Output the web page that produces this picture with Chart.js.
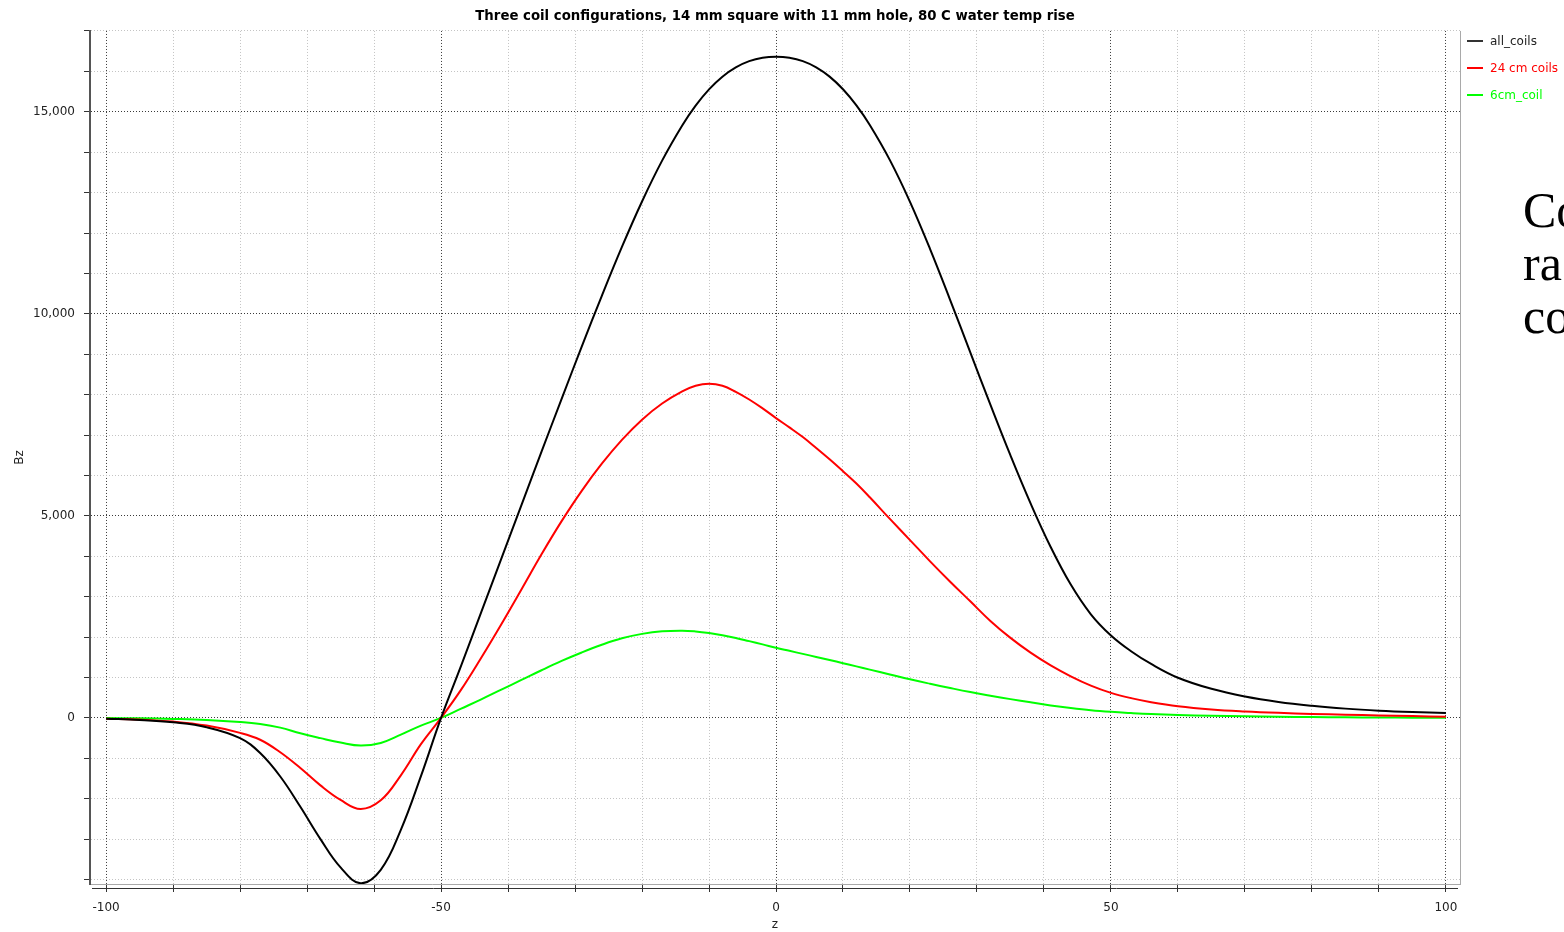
<!DOCTYPE html>
<html>
<head>
<meta charset="utf-8">
<script src="https://cdn.jsdelivr.net/npm/chart.js@4.4.1/dist/chart.umd.min.js"></script>
<style>
  html, body { margin: 0; padding: 0; background: #ffffff; }
  #wrap { position: relative; width: 1564px; height: 932px; overflow: hidden; background: #fff; }
  #c { position: absolute; left: 0; top: 0; }
  #legend { position: absolute; left: 1467px; top: 32px; font: 12px "DejaVu Sans", Verdana, sans-serif; }
  .li { position: relative; height: 27px; white-space: nowrap; }
  .sw { position: absolute; left: 0; top: 8px; width: 16px; height: 2px; }
  .lt { position: absolute; left: 23px; top: 0px; line-height: 18px; }
  #side { position: absolute; left: 1523px; top: 184px; font: 50px "Liberation Serif", "Times New Roman", serif; line-height: 53px; color: #000; white-space: nowrap; }
</style>
</head>
<body>
<div id="wrap">
  <canvas id="c" width="1564" height="932"></canvas>
  <div id="legend"></div>
  <div id="side">Co<br>ra<br>co</div>
</div>
<script>
// ---- data ----
const chartTitle = "Three coil configurations, 14 mm square with 11 mm hole, 80 C water temp rise";
const xAxisTitle = "z";
const yAxisTitle = "Bz";
const seriesLabels = ["all_coils", "24 cm coils", "6cm_coil"];
const seriesColors = ["#000000", "#ff0000", "#00ff00"];

const zValues = [-100,-95,-90,-85,-80,
  -77,-74,-71,-68,-65,-62,-59,-56,-53,-50,
  -47,-44,-41,-38,-35,-32,-29,-26,-23,-20,-17,-14,
  -12,-10,-8,-6,-4,-2,0,2,4,6,8,10,12,14,
  17,20,23,26,29,32,35,38,41,44,47,50,53,
  56,60,
  65,70,75,80,85,90,95,100];

const allCoils = [-20,-50,-110,-230,-500,
  -870,-1450,-2200,-3000,-3700,-4090,-3760,-2770,-1440,0,
  1296,2616,3942,5268,6588,7896,9186,10446,11655,12780,13791,14661,
  15151,15555,15869,16099,16253,16337,16361,16336,16253,16100,15870,15557,15157,14673,
  13803,12771,11601,10341,9045,7752,6495,5310,4230,3300,2565,2040,1650,
  1335,995,
  720,530,395,300,230,180,145,120];

const coils24 = [-20,-40,-90,-190,-370,
  -540,-850,-1240,-1670,-2030,-2255,-2040,-1420,-650,0,
  700,1490,2320,3180,4050,4870,5620,6290,6880,7380,7780,8080,
  8220,8270,8220,8070,7880,7660,7420,7190,6950,6680,6400,6105,5800,5460,
  4925,4400,3875,3370,2885,2400,1980,1615,1300,1030,800,620,490,
  390,290,
  210,160,125,100,80,60,45,30];

const coil6 = [-5,-10,-25,-50,-100,
  -150,-240,-380,-500,-610,-685,-620,-415,-190,0,
  230,460,700,940,1180,1410,1620,1810,1970,2080,2145,2160,
  2140,2100,2045,1980,1900,1820,1735,1660,1585,1510,1435,1355,1275,1195,
  1075,955,845,740,640,550,465,385,310,245,190,150,120,
  95,72,
  55,40,30,20,15,10,7,5];

const seriesValues = [allCoils, coils24, coil6];

const xTickValues = [-100,-90,-80,-70,-60,-50,-40,-30,-20,-10,0,10,20,30,40,50,60,70,80,90,100];
const xLabelValues = [-100,-50,0,50,100];
const yTickValues = [-4000,-3000,-2000,-1000,0,1000,2000,3000,4000,5000,6000,7000,8000,9000,10000,11000,12000,13000,14000,15000,16000,17000];
const yLabelValues = [0,5000,10000,15000];

const xMin = -102.4, xMax = 102.1;
const yMin = -4110, yMax = 17000;

// ---- build ----
const datasets = seriesLabels.map((lab, i) => ({
  label: lab,
  data: zValues.map((z, j) => ({ x: z, y: seriesValues[i][j] })),
  borderColor: seriesColors[i],
  backgroundColor: seriesColors[i],
  borderWidth: 2,
  pointRadius: 0,
  pointHoverRadius: 0,
  fill: false,
  tension: 0.4
}));

const majorGrid = '#3a3a3a';
const minorGrid = '#c4c4c4';

const framePlugin = {
  id: 'frame',
  afterDraw(chart) {
    const { ctx, chartArea: a } = chart;
    ctx.save();
    ctx.strokeStyle = '#a9a9a9';
    ctx.lineWidth = 1;
    ctx.beginPath();
    ctx.moveTo(a.right + 0.5, a.top);
    ctx.lineTo(a.right + 0.5, a.bottom + 1);
    ctx.stroke();
    ctx.strokeStyle = '#333';
    ctx.beginPath();
    ctx.moveTo(a.left + 2, a.bottom + 4.5);
    ctx.lineTo(a.right - 2, a.bottom + 4.5);
    ctx.stroke();
    ctx.restore();
  }
};

new Chart(document.getElementById('c'), {
  type: 'line',
  data: { datasets },
  plugins: [framePlugin],
  options: {
    responsive: false,
    animation: false,
    events: [],
    layout: { padding: { left: 0, right: 104, top: 0, bottom: 0 } },
    plugins: {
      legend: { display: false },
      tooltip: { enabled: false },
      title: {
        display: true,
        text: chartTitle,
        fullSize: false,
        color: '#000',
        font: { family: '"DejaVu Sans", sans-serif', size: 13.3, weight: 'bold' },
        padding: { top: 9, bottom: 6 }
      }
    },
    scales: {
      x: {
        type: 'linear',
        min: xMin,
        max: xMax,
        afterBuildTicks: (s) => { s.ticks = xTickValues.map(v => ({ value: v })); },
        afterFit: (s) => { s.height = 48; },
        ticks: {
          autoSkip: false,
          maxRotation: 0,
          padding: 9,
          color: '#222',
          font: { family: '"DejaVu Sans", sans-serif', size: 12 },
          callback: (v) => xLabelValues.includes(v) ? String(v) : ''
        },
        grid: {
          color: (ctx) => (ctx.tick && xLabelValues.includes(ctx.tick.value)) ? majorGrid : minorGrid,
          lineWidth: 1,
          tickLength: 8,
          tickColor: '#333'
        },
        border: { display: true, color: '#a9a9a9', width: 1, dash: [1, 2] },
        title: {
          display: true,
          text: xAxisTitle,
          color: '#222',
          font: { family: '"DejaVu Sans", sans-serif', size: 12 },
          padding: { top: 0, bottom: 0 }
        }
      },
      y: {
        type: 'linear',
        min: yMin,
        max: yMax,
        afterBuildTicks: (s) => { s.ticks = yTickValues.map(v => ({ value: v })); },
        afterFit: (s) => { s.width = 90; },
        ticks: {
          autoSkip: false,
          padding: 9,
          color: '#222',
          font: { family: '"DejaVu Sans", sans-serif', size: 12 },
          callback: (v) => yLabelValues.includes(v) ? v.toLocaleString('en-US') : ''
        },
        grid: {
          color: (ctx) => (ctx.tick && yLabelValues.includes(ctx.tick.value)) ? majorGrid : minorGrid,
          lineWidth: 1,
          tickLength: 6,
          tickColor: '#333'
        },
        border: { display: true, color: '#555', width: 2, dash: [1, 2] },
        title: {
          display: true,
          text: yAxisTitle,
          color: '#222',
          font: { family: '"DejaVu Sans", sans-serif', size: 12 },
          padding: { top: 13, bottom: 0 }
        }
      }
    }
  }
});

// legend built from the dataset labels/colours
const lg = document.getElementById('legend');
seriesLabels.forEach((lab, i) => {
  const row = document.createElement('div');
  row.className = 'li';
  const sw = document.createElement('div');
  sw.className = 'sw';
  sw.style.background = seriesColors[i] === '#000000' ? '#333' : seriesColors[i];
  const t = document.createElement('div');
  t.className = 'lt';
  t.style.color = seriesColors[i] === '#000000' ? '#222' : seriesColors[i];
  t.textContent = lab;
  row.appendChild(sw); row.appendChild(t);
  lg.appendChild(row);
});
</script>
</body>
</html>
